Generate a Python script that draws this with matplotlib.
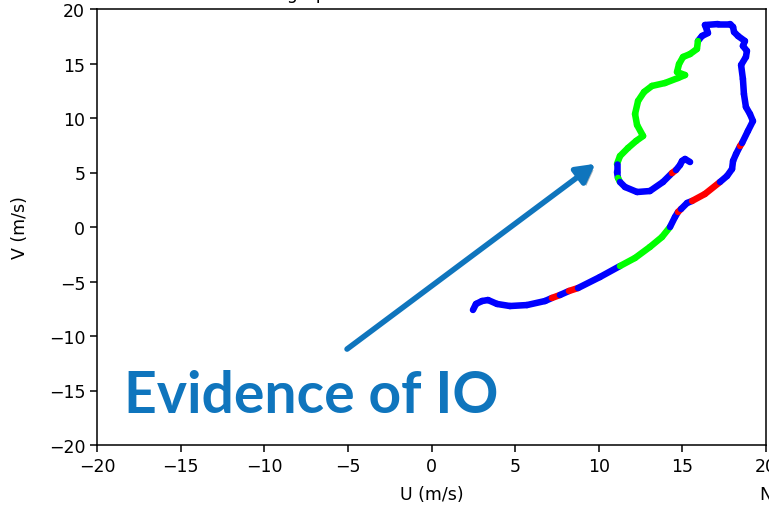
import matplotlib
matplotlib.use("Agg")
import matplotlib.pyplot as plt
import matplotlib.patheffects as pe
from matplotlib.collections import LineCollection
import numpy as np

# hodograph trace (m/s)
u_wind = [2.48, 2.66, 3.02, 3.38, 3.92, 4.69, 5.71, 6.79, 7.20, 7.68,
          8.22, 8.76, 10.07, 11.27, 12.17, 13.06, 13.78, 14.26, 14.56, 14.74,
          14.92, 15.28, 15.58, 16.35, 17.25, 17.67, 17.97, 18.03, 18.21, 18.45,
          18.57, 18.92, 19.22, 19.04, 18.80, 18.68, 18.62, 18.51, 18.80, 18.86,
          18.62, 18.74, 18.33, 18.09, 18.03, 17.85, 17.13, 16.35, 16.47, 16.53,
          16.17, 15.93, 15.87, 15.46, 15.04, 14.80, 14.68, 15.16, 14.74, 13.96,
          13.18, 12.71, 12.35, 12.17, 12.29, 12.65, 12.23, 11.75, 11.27, 11.09,
          11.09, 11.15, 11.27, 11.57, 12.29, 13.06, 13.84, 14.38, 14.62, 14.86,
          14.98, 15.16, 15.46]
v_wind = [-7.61, -7.06, -6.79, -6.70, -7.06, -7.25, -7.16, -6.79, -6.51, -6.24,
          -5.87, -5.60, -4.59, -3.58, -2.84, -1.83, -0.92, 0.00, 0.92, 1.38,
          1.65, 2.20, 2.39, 3.03, 4.13, 4.68, 5.32, 6.06, 6.70, 7.43,
          7.71, 8.81, 9.72, 10.37, 11.01, 12.20, 13.58, 14.86, 15.60, 16.15,
          16.61, 17.06, 17.52, 17.89, 18.35, 18.62, 18.62, 18.53, 18.07, 17.80,
          17.52, 17.06, 16.33, 15.87, 15.60, 14.95, 14.22, 13.94, 13.67, 13.21,
          12.94, 12.39, 11.56, 10.37, 9.36, 8.35, 7.89, 7.25, 6.51, 5.78,
          5.05, 4.50, 4.13, 3.67, 3.21, 3.30, 4.13, 4.95, 5.23, 5.69,
          6.06, 6.24, 5.96]
# colour of each segment, starting at the matching point
seg_code = ("b" * 8 + "r" + "b" + "r" + "b" * 2 + "g" * 4 + "b" * 2 + "r"
            + "b" * 2 + "r" * 2 + "b" * 5 + "r" + "b" * 21 + "g" * 18
            + "b" * 2 + "g" + "b" * 5 + "r" + "b" * 5)
seg_colors = {"b": "#0000ff", "g": "#00ff00", "r": "#ff0000"}

ticks = [-20, -15, -10, -5, 0, 5, 10, 15, 20]

fig = plt.figure(figsize=(7.69, 5.06), dpi=100)
ax = fig.add_axes([97 / 769, 1 - 446 / 506, 669 / 769, 436 / 506])

pts = np.column_stack([u_wind, v_wind])
segs = [pts[i:i + 2] for i in range(len(pts) - 1)]
cols = [seg_colors[c] for c in seg_code[:len(segs)]]
lc = LineCollection(segs, colors=cols, linewidths=4.7, capstyle="round",
                    joinstyle="round")
ax.add_collection(lc)

ax.set_xlim(-20, 20)
ax.set_ylim(-20, 20)
ax.set_xticks(ticks)
ax.set_yticks(ticks)
ax.tick_params(labelsize=12.5, length=5, width=1.1)
for s in ax.spines.values():
    s.set_linewidth(1.1)
ax.set_xlabel("U (m/s)", fontsize=12.5, labelpad=7.5)
ax.set_ylabel("V (m/s)", fontsize=12.5, labelpad=14)

# arrow + callout
blue = "#0f75bd"
ax.annotate("", xy=(9.8, 5.8), xytext=(-5.05, -11.2),
            arrowprops=dict(arrowstyle="-|>,head_length=1.1,head_width=0.6",
                            lw=4, color=blue, shrinkA=0, shrinkB=0,
                            path_effects=[pe.SimplePatchShadow(offset=(2, -2),
                                                               alpha=0.35),
                                          pe.Normal()]))
fig.text(124 / 769, 1 - 413 / 506, "Evidence of IO", fontsize=41,
         fontfamily="Lato", fontweight="bold", color=blue, va="baseline")

# title and side label sitting off the canvas edges
fig.text(241 / 769, 1 + 1.3 / 506, "Hodograph", fontsize=12.5, va="baseline")
fig.text(759 / 769, 1 - 500 / 506, "N", fontsize=12.5, va="baseline")

fig.savefig("out.png", dpi=100)
